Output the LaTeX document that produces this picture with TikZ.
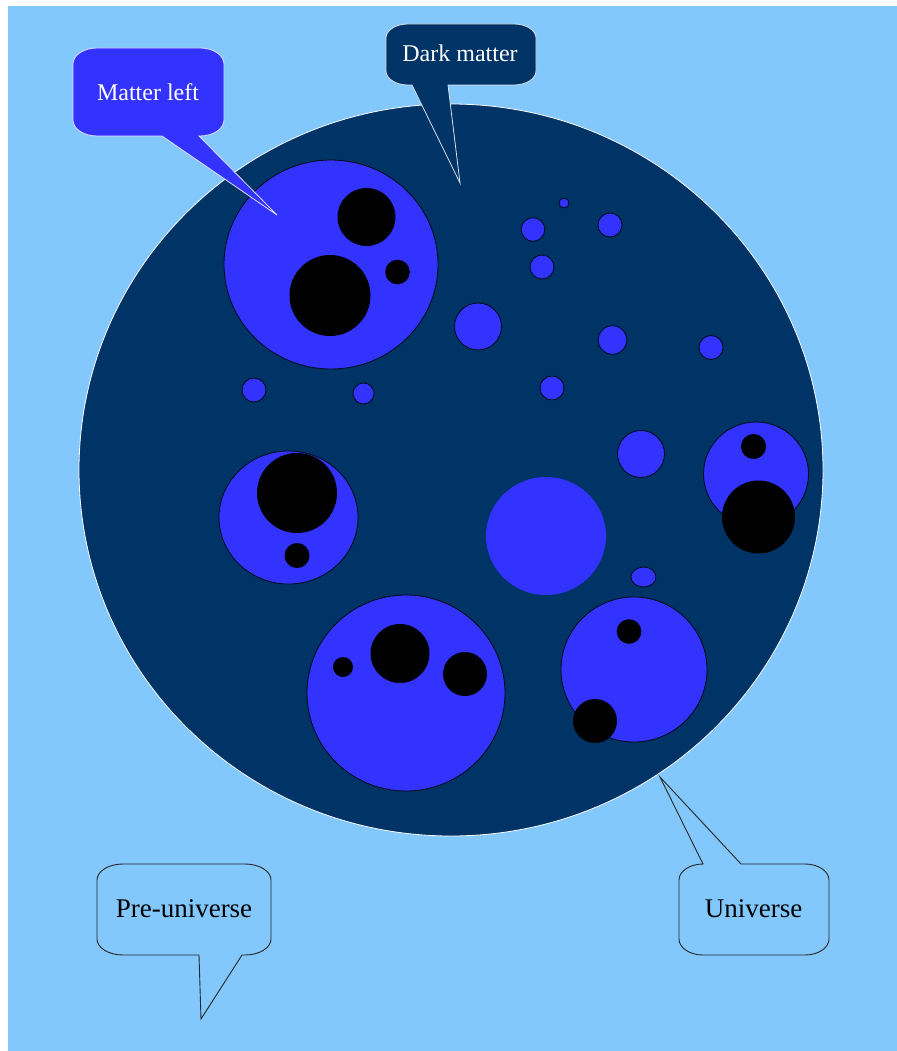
\documentclass[tikz,border=0pt]{standalone}
\usepackage{fontspec}
\setmainfont{Liberation Serif}
\definecolor{skybg}{HTML}{82C8FC}
\definecolor{darkm}{HTML}{003366}
\definecolor{matterblue}{HTML}{3333FF}
\newcommand\calloutpath[8]{%
(#1+#5,#2) #7 -- (#3-#5,#2) .. controls (#3-#5*0.4477,#2) and (#3,#2+#6*0.4477) .. (#3,#2+#6)
-- (#3,#4-#6) .. controls (#3,#4-#6*0.4477) and (#3-#5*0.4477,#4) .. (#3-#5,#4) #8
-- (#1+#5,#4) .. controls (#1+#5*0.4477,#4) and (#1,#4-#6*0.4477) .. (#1,#4-#6)
-- (#1,#2+#6) .. controls (#1,#2+#6*0.4477) and (#1+#5*0.4477,#2) .. (#1+#5,#2) -- cycle}
\tikzset{
  blob/.style={fill=matterblue, draw=black!80!darkm, line width=0.8pt},
  hole/.style={fill=black},
  whitelabel/.style={text=white, font=\fontsize{24}{28}\selectfont, inner sep=0pt},
  blacklabel/.style={text=black, font=\fontsize{27}{31}\selectfont, inner sep=0pt},
}
\begin{document}
\begin{tikzpicture}[x=1pt,y=-1pt]
\useasboundingbox (0,0) rectangle (896,1051);
\fill[white] (0,0) rectangle (896,1051);
\fill[skybg] (8,6) rectangle (912,1068);
% universe
\draw[fill=darkm, draw=white, line width=0.8pt] (451,470) circle[x radius=372, y radius=366];
% group 1
\draw[blob] (331,264.5) circle[x radius=107, y radius=104.5];
\fill[hole] (366.5,217) circle[radius=29];
\fill[hole] (330,295.5) circle[radius=40.5];
\fill[hole] (397.5,272) circle[radius=12.3];
% group 2
\draw[blob] (288.5,517.5) circle[x radius=69.5, y radius=66.5];
\fill[hole] (297,493) circle[radius=40];
\fill[hole] (297,555.5) circle[radius=12.5];
% group 3
\draw[blob] (406,693) circle[x radius=99, y radius=98];
\fill[hole] (343,667) circle[radius=10];
\fill[hole] (400,653.5) circle[radius=29.5];
\fill[hole] (465,674) circle[radius=22];
% group 4
\draw[blob] (634,669.5) circle[x radius=73, y radius=72.5];
\fill[hole] (629,631.5) circle[radius=12.3];
\fill[hole] (595,721) circle[radius=22];
% group 5
\draw[blob] (756,474) circle[x radius=52.5, y radius=52];
\fill[hole] (753.5,446.5) circle[radius=12.5];
\fill[hole] (758.5,517) circle[radius=36.5];
% plain blue
\fill[matterblue] (546,536) circle[x radius=60, y radius=59];
% small matter
\draw[blob] (564,203) circle[radius=5];
\draw[blob] (533,229.5) circle[radius=11.8];
\draw[blob] (610,225) circle[radius=12];
\draw[blob] (542,267) circle[radius=12];
\draw[blob] (478,326.5) circle[radius=23.5];
\draw[blob] (612.5,340) circle[radius=14.3];
\draw[blob] (711,347.5) circle[radius=12];
\draw[blob] (552,388) circle[radius=12];
\draw[blob] (254,390) circle[radius=12];
\draw[blob] (363.5,393.5) circle[radius=10.5];
\draw[blob] (641,454) circle[radius=23.5];
\draw[blob] (643.5,577) circle[x radius=12.5, y radius=10];
% callouts
\draw[fill=matterblue, draw=white!85!matterblue, line width=0.8pt]
  \calloutpath{73}{48}{224}{136}{24}{16}{}{-- (199,136) -- (277,215) -- (162,136)};
\node[whitelabel] (matter) at (148,92) {Matter left};
\draw[fill=darkm, draw=white!85!darkm, line width=0.8pt]
  \calloutpath{386}{24}{536}{85}{22}{14}{}{-- (448,85) -- (460,183) -- (412,85)};
\node[whitelabel] (dark) at (460,53) {Dark matter};
\draw[fill=skybg, draw=black!85, line width=0.9pt]
  \calloutpath{97}{864}{271}{955}{26}{16}{}{-- (242,955) -- (201,1019) -- (199,955)};
\node[blacklabel] (pre) at (184,909) {Pre-universe};
\draw[fill=skybg, draw=black!85, line width=0.9pt]
  \calloutpath{679}{864}{829}{955}{24}{16}{-- (703,864) -- (660,777) -- (741,864)}{};
\node[blacklabel] (uni) at (753.5,909) {Universe};
\end{tikzpicture}
\end{document}
